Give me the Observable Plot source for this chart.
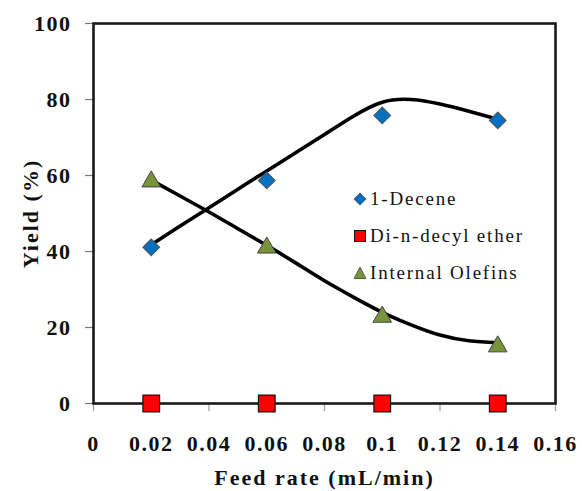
<!DOCTYPE html>
<html>
<head>
<meta charset="utf-8">
<script src="https://cdn.jsdelivr.net/npm/d3@7"></script>
<script src="https://cdn.jsdelivr.net/npm/@observablehq/plot@0.6"></script>
<style>
  html, body { margin: 0; padding: 0; background: #fff; }
  #wrap { position: relative; width: 582px; height: 491px; }
  #wrap svg text { font-family: "Liberation Serif", "DejaVu Serif", serif; }
  #wrap svg [aria-label="x-axis tick label"] text,
  #wrap svg [aria-label="y-axis tick label"] text { letter-spacing: 1.5px; }
  #wrap svg [aria-label="x-axis label"] text,
  #wrap svg [aria-label="y-axis label"] text { letter-spacing: 2px; }
  #legend { position: absolute; left: 353px; top: 180px; font-family: "Liberation Serif", "DejaVu Serif", serif; font-size: 19px; color: #111; }
  #legend .row { display: flex; align-items: center; height: 37px; letter-spacing: 1.8px; white-space: nowrap; }
  #legend svg { margin-right: 3px; }
</style>
</head>
<body>
<div id="wrap"></div>
<script>
// Measured data
const feedRate = [0.02, 0.06, 0.1, 0.14];
const decene = [41.1, 58.7, 75.8, 74.5];
const ether = [0, 0, 0, 0];
const olefins = [58.4, 41.0, 22.8, 15.0];

// Trendlines
const trendX = [0.02, 0.03, 0.04, 0.05, 0.06, 0.07, 0.08, 0.09, 0.10, 0.11, 0.12, 0.13, 0.14];
const deceneTrend = [41.8, 46.7, 51.5, 56.4, 61.2, 66.0, 70.8, 75.6, 79.3, 80.0, 78.8, 76.9, 74.8];
const olefinsTrend = [58.8, 54.6, 50.4, 46.0, 41.6, 37.0, 32.3, 28.0, 24.0, 20.7, 18.0, 16.5, 16.0];

const xTicks = [0, 0.02, 0.04, 0.06, 0.08, 0.1, 0.12, 0.14, 0.16];
const yTicks = [0, 20, 40, 60, 80, 100];

const seriesNames = ["1-Decene", "Di-n-decyl ether", "Internal Olefins"];
const seriesColors = ["#0070C0", "#FF0000", "#77933C"];

const pts = (ys) => feedRate.map((x, i) => ({x, y: ys[i]}));
const trend = (ys) => trendX.map((x, i) => ({x, y: ys[i]}));

const chart = Plot.plot({
  width: 582,
  height: 491,
  marginLeft: 93,
  marginRight: 27,
  marginTop: 23,
  marginBottom: 88,
  style: {fontFamily: "'Liberation Serif', 'DejaVu Serif', serif", background: "#fff", color: "#111"},
  x: {domain: [0, 0.16]},
  y: {domain: [0, 100]},
  marks: [
    Plot.axisY({ticks: yTicks, tickSize: 8, tickPadding: 14, fontSize: 22, fontWeight: "bold",
      stroke: "#777", strokeWidth: 1.2, label: "Yield (%)", labelAnchor: "center", labelOffset: 71, labelArrow: false}),
    Plot.axisX({ticks: xTicks, tickSize: 8, tickPadding: 24, fontSize: 22, fontWeight: "bold",
      stroke: "#999", strokeWidth: 1.2, tickFormat: d => String(+d.toFixed(2)),
      label: "Feed rate (mL/min)", labelAnchor: "center", labelOffset: 81, labelArrow: false}),
    Plot.frame({stroke: "#1a1a1a", strokeWidth: 2.6}),
    Plot.line(trend(deceneTrend), {x: "x", y: "y", curve: "natural", stroke: "#000", strokeWidth: 3.6}),
    Plot.line(trend(olefinsTrend), {x: "x", y: "y", curve: "natural", stroke: "#000", strokeWidth: 3.6}),
    Plot.dot(pts(decene), {x: "x", y: "y", symbol: "square", rotate: 45, r: 6.7, fill: seriesColors[0], stroke: "#555", strokeWidth: 1}),
    Plot.dot(pts(ether), {x: "x", y: "y", symbol: "square", r: 9.4, fill: seriesColors[1], stroke: "#111", strokeWidth: 1.2}),
    Plot.dot(pts(olefins), {x: "x", y: "y", symbol: "triangle", r: 6.9, fill: seriesColors[2], stroke: "#444", strokeWidth: 1})
  ]
});

const wrap = document.getElementById("wrap");
wrap.appendChild(chart);

// Legend (inside the plot area)
const shapes = [
  '<svg width="14" height="14" viewBox="-7 -7 14 14"><rect x="-4.3" y="-4.3" width="8.6" height="8.6" transform="rotate(45)" fill="#0070C0" stroke="#555" stroke-width="0.8"/></svg>',
  '<svg width="14" height="14" viewBox="-7 -7 14 14"><rect x="-5.5" y="-5.5" width="11" height="11" fill="#FF0000" stroke="#111" stroke-width="1"/></svg>',
  '<svg width="14" height="14" viewBox="-7 -7 14 14"><path d="M0,-6L6,5.5L-6,5.5Z" fill="#77933C" stroke="#444" stroke-width="0.8"/></svg>'
];
const legend = document.createElement("div");
legend.id = "legend";
legend.innerHTML = seriesNames.map((n, i) => `<div class="row">${shapes[i]}<span>${n}</span></div>`).join("");
wrap.appendChild(legend);
</script>
</body>
</html>
